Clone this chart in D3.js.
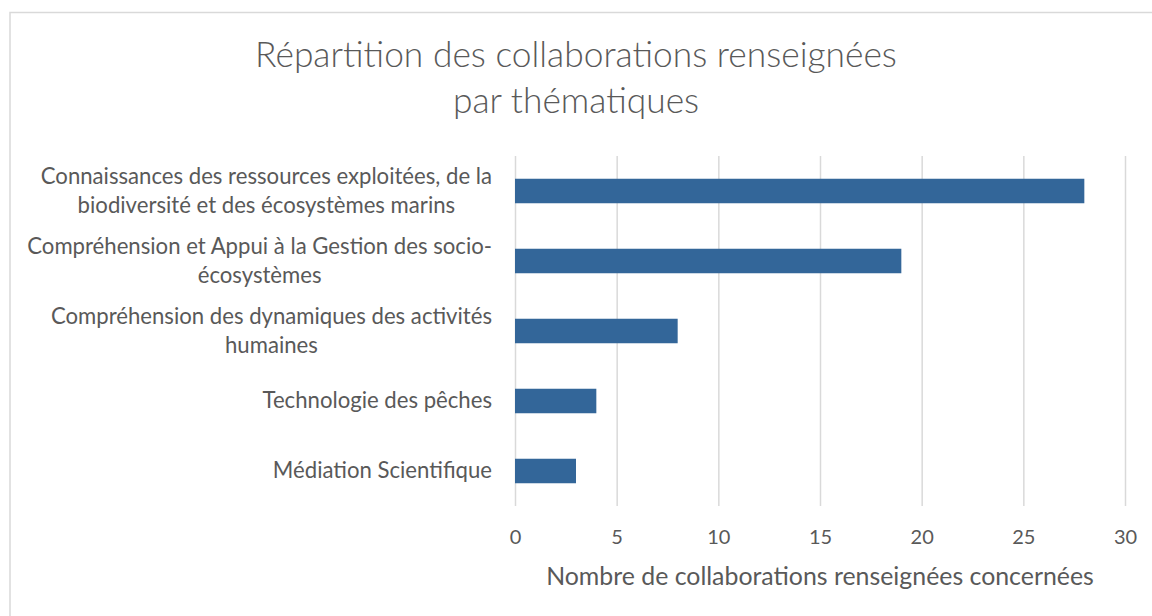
<!DOCTYPE html>
<html>
<head>
<meta charset="utf-8">
<script src="https://cdn.jsdelivr.net/npm/d3@7/dist/d3.min.js"></script>
<style>
  html, body { margin: 0; padding: 0; background: #fff; }
  svg { display: block; font-family: Lato, "Open Sans", sans-serif; }
</style>
</head>
<body>
<svg id="chart" width="1152" height="616"></svg>
<script>
var titleLines = ['Répartition des collaborations renseignées', 'par thématiques'];
var axisTitle = 'Nombre de collaborations renseignées concernées';

// one entry per category, each category split in the lines shown on the chart
var categories = [
  ['Connaissances des ressources exploitées, de la', 'biodiversité et des écosystèmes marins'],
  ['Compréhension et Appui à la Gestion des socio-', 'écosystèmes'],
  ['Compréhension des dynamiques des activités', 'humaines'],
  ['Technologie des pêches'],
  ['Médiation Scientifique']
];
var values = [28, 19, 8, 4, 3];
var xTicks = [0, 5, 10, 15, 20, 25, 30];

var textColor = '#595959';
var barColor = '#336699';
var gridColor = '#d9d9d9';

var svg = d3.select('svg#chart');

// scale a font so that a text node gets the wanted width
function fitFont(sel, base, wanted) {
  var w = d3.max(sel.nodes(), function(n) { return n.getComputedTextLength(); });
  return base * wanted / w;
}

// chart border (runs off the right and bottom edge)
svg.append('rect')
  .attr('x', 10).attr('y', 12.5)
  .attr('width', 1160).attr('height', 620)
  .attr('fill', 'none')
  .attr('stroke', gridColor)
  .attr('stroke-width', 1.5);

var plotLeft = 515, plotRight = 1125, plotTop = 156, plotBottom = 506;

var x = d3.scaleLinear()
  .domain([0, 30])
  .range([plotLeft, plotRight]);

var y = d3.scaleBand()
  .domain(d3.range(categories.length))
  .range([plotTop, plotBottom])
  .paddingInner(0.65)
  .paddingOuter(0.325);

// title
var title = svg.append('text')
  .attr('text-anchor', 'middle')
  .style('font-size', '30px')
  .style('font-weight', 300)
  .style('fill', textColor);
title.selectAll('tspan')
  .data(titleLines)
  .join('tspan')
  .attr('x', 576)
  .attr('y', function(d, i) { return i ? 113 : 67; })
  .text(function(d) { return d; });
title.style('font-size', fitFont(title.selectAll('tspan'), 30, 642) + 'px');

// vertical gridlines and tick labels
var xAxis = d3.axisBottom(x)
  .tickValues(xTicks)
  .tickSize(-(plotBottom - plotTop))
  .tickPadding(22);

var gx = svg.append('g')
  .attr('transform', 'translate(0,' + plotBottom + ')')
  .call(xAxis);
gx.select('.domain').remove();
gx.selectAll('.tick line')
  .attr('stroke', gridColor)
  .attr('stroke-width', 1.5);
gx.selectAll('.tick text')
  .attr('dy', '0.32em')
  .attr('y', 32)
  .style('font-size', '20px')
  .style('font-family', 'Lato, "Open Sans", sans-serif')
  .style('fill', textColor);

// bars
svg.append('g')
  .selectAll('rect')
  .data(values)
  .join('rect')
  .attr('x', x(0))
  .attr('y', function(d, i) { return y(i); })
  .attr('width', function(d) { return x(d) - x(0); })
  .attr('height', y.bandwidth())
  .attr('fill', barColor);

// category labels: lines centred in a block that is right aligned at the axis
var lineH = 29;
var labelRight = 492;
var labelGroup = svg.append('g')
  .style('font-size', '18px')
  .style('fill', textColor);
var labels = labelGroup.selectAll('text')
  .data(categories)
  .join('text')
  .attr('text-anchor', 'middle');

labels.selectAll('tspan')
  .data(function(d) { return d; })
  .join('tspan')
  .text(function(d) { return d; });

labelGroup.style('font-size', fitFont(labels.selectAll('tspan'), 18, 465) + 'px');

labels.each(function(d, i) {
  var spans = d3.select(this).selectAll('tspan');
  var w = d3.max(spans.nodes(), function(n) { return n.getComputedTextLength(); });
  var cx = labelRight - w / 2;
  var cy = y(i) + y.bandwidth() / 2;
  var y0 = cy - (d.length - 1) * lineH / 2 + 7;
  spans.attr('x', cx)
    .attr('y', function(s, j) { return y0 + j * lineH; });
});

// axis title
var at = svg.append('text')
  .attr('x', (plotLeft + plotRight) / 2)
  .attr('y', 585)
  .attr('text-anchor', 'middle')
  .style('font-size', '21px')
  .style('fill', textColor)
  .text(axisTitle);
at.style('font-size', fitFont(at, 21, 548) + 'px');
</script>
</body>
</html>
